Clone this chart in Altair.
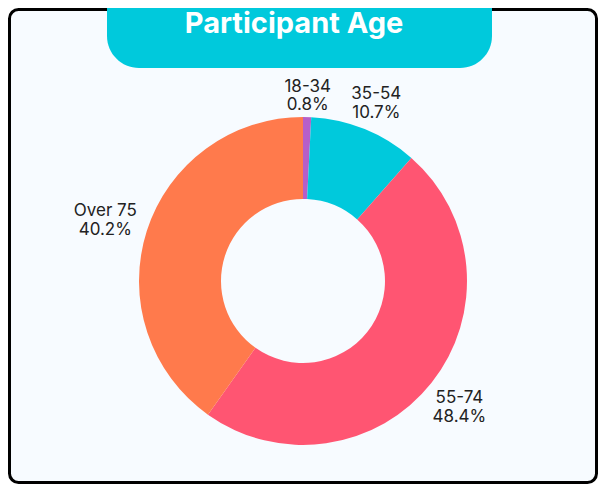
import altair as alt
import pandas as pd

# ---- data ----
categories = ["18-34", "35-54", "55-74", "Over 75"]
values = [0.8, 10.7, 48.4, 40.2]
colors = ["#B65FC8", "#00C9DC", "#FF5572", "#FF7A4C"]
title_text = "Participant Age"

df = pd.DataFrame({"cat": categories, "value": values, "order": list(range(len(categories)))})

W, H = 590, 476
CX, CY = 295, 273
R_IN, R_OUT = 82, 164
LH = 18.5

frame = alt.Chart(pd.DataFrame({"k": [0]})).mark_rect(
    fill="#F7FBFF", stroke="#000000", strokeWidth=3, cornerRadius=9
).encode(x=alt.value(1.5), x2=alt.value(W - 1.5), y=alt.value(1.5), y2=alt.value(H - 1.5))

pill = alt.Chart(pd.DataFrame({"k": [0]})).mark_rect(
    fill="#00C9DC", cornerRadius=32
).encode(x=alt.value(99), x2=alt.value(484), y=alt.value(-40), y2=alt.value(60))

title = alt.Chart(pd.DataFrame({"t": [title_text]})).mark_text(
    font="Inter", fontWeight="bold", fontSize=29, color="#FFFFFF",
    align="center", baseline="alphabetic"
).encode(x=alt.value(286), y=alt.value(24.5), text="t:N")

arcs = alt.Chart(df).mark_arc(innerRadius=R_IN, outerRadius=R_OUT).encode(
    theta=alt.Theta("value:Q", stack=True),
    color=alt.Color("cat:N", scale=alt.Scale(domain=categories, range=colors), legend=None),
    order=alt.Order("order:Q"),
    x=alt.value(CX),
    y=alt.value(CY),
)

labels = alt.Chart(df).transform_joinaggregate(
    total="sum(value)"
).transform_window(
    cum="sum(value)", sort=[alt.SortField("order")], frame=[None, 0]
).transform_calculate(
    mid="(datum.cum - datum.value/2) / datum.total * 2 * PI",
    pct="format(datum.value, '.1f') + '%'",
).transform_calculate(
    label="datum.cat + '\\n' + datum.pct",
    hw="max(length(datum.cat), length(datum.pct)) * 4.75",
).transform_calculate(
    r="171 + abs(sin(datum.mid)) * datum.hw + abs(cos(datum.mid)) * 16",
).transform_calculate(
    lx=f"{CX} + datum.r * sin(datum.mid)",
    ly=f"{CY} - datum.r * cos(datum.mid)",
).mark_text(
    font="Inter", fontSize=17, color="#222222", lineBreak="\n", lineHeight=LH,
    align="center", baseline="middle", dy=-6.5
).encode(
    x=alt.X("lx:Q", scale=None, axis=None),
    y=alt.Y("ly:Q", scale=None, axis=None),
    text="label:N",
)

chart = alt.layer(frame, pill, title, arcs, labels).properties(
    width=W, height=H, padding=0, autosize="none", background="#FFFFFF"
).configure_view(stroke=None)

chart.save("out.html", embed_options={"renderer": "svg", "actions": False})
